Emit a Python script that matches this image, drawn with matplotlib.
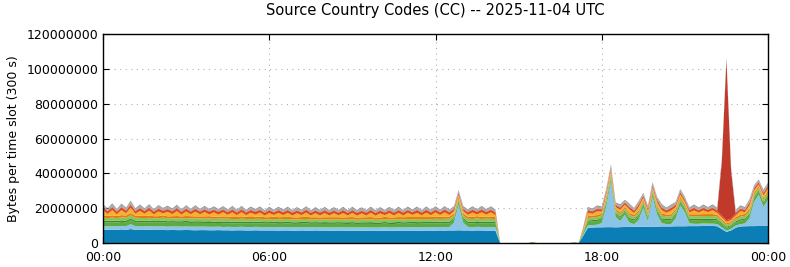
# Source Country Codes stacked area chart, 10 minute slots over one day
import numpy as np
import matplotlib
matplotlib.use('Agg')
from matplotlib import pyplot as plt
from matplotlib.ticker import FuncFormatter

title = 'Source Country Codes (CC) -- 2025-11-04 UTC'
ylabel = 'Bytes per time slot (300 s)'
xtick_hours = [0, 6, 12, 18, 24]
xtick_labels = ['00:00', '06:00', '12:00', '18:00', '00:00']
yticks = [0, 20000000, 40000000, 60000000, 80000000, 100000000, 120000000]

# values in millions of bytes, one per 10 minutes from 00:00 to 24:00
blue = [7.7, 7.6, 7.5, 7.6, 7.8, 7.6, 8.0, 7.6, 7.5, 7.5, 7.6, 7.5,
        7.5, 7.5, 7.4, 7.5, 7.4, 7.4, 7.5, 7.4, 7.3, 7.4, 7.4, 7.3,
        7.3, 7.4, 7.3, 7.3, 7.2, 7.3, 7.3, 7.2, 7.2, 7.3, 7.2, 7.2,
        7.2, 7.2, 7.1, 7.2, 7.2, 7.1, 7.1, 7.2, 7.1, 7.1, 7.2, 7.1,
        7.1, 7.1, 7.0, 7.1, 7.1, 7.0, 7.1, 7.0, 7.0, 7.1, 7.0, 7.0,
        7.0, 7.1, 7.0, 7.0, 7.1, 7.1, 7.0, 7.1, 7.1, 7.0, 7.1, 7.1,
        7.1, 7.2, 7.1, 7.2, 7.2, 7.3, 7.2, 7.2, 7.1, 7.2, 7.2, 7.1,
        7.1, 7.0, 0, 0, 0, 0, 0, 0, 0, 0, 0, 0,
        0, 0, 0, 0, 0, 0, 0, 0, 4.2, 8.8, 8.9, 9.0,
        9.0, 9.1, 9.1, 9.0, 9.1, 9.2, 9.2, 9.3, 9.3, 9.3, 9.4, 9.4,
        9.4, 9.5, 9.5, 9.5, 9.6, 9.6, 9.6, 9.7, 9.7, 9.7, 9.8, 9.8,
        9.8, 9.6, 8.0, 6.4, 7.2, 8.8, 9.5, 9.6, 9.7, 9.7, 9.8, 9.8,
        9.8]
ltblue = [2.0, 2.0, 2.1, 2.0, 2.0, 2.1, 2.8, 2.1, 2.0, 2.0, 2.1, 2.0,
          2.0, 2.1, 2.0, 2.0, 2.1, 2.0, 2.0, 2.0, 2.1, 2.0, 2.0, 2.0,
          2.0, 2.0, 1.9, 2.0, 2.0, 1.9, 2.0, 2.0, 1.9, 2.0, 2.0, 1.9,
          1.9, 2.0, 1.9, 1.9, 2.0, 1.9, 1.9, 1.9, 2.0, 1.9, 1.9, 1.9,
          1.9, 1.9, 1.9, 2.0, 1.9, 1.9, 1.9, 1.9, 2.0, 1.9, 1.9, 1.9,
          1.9, 2.0, 1.9, 1.9, 2.0, 1.9, 2.0, 2.0, 1.9, 2.0, 2.0, 2.0,
          2.0, 2.0, 2.1, 2.0, 4.5, 14.5, 4.5, 2.1, 2.0, 2.1, 2.0, 2.1,
          2.1, 2.0, 0, 0, 0, 0, 0, 0, 0, 0, 0, 0,
          0, 0, 0, 0, 0, 0, 0, 0, 0.6, 1.3, 1.4, 1.5,
          2.5, 12.0, 26.5, 6.0, 3.5, 7.0, 2.5, 1.5, 4.0, 11.0, 3.0, 17.0,
          7.0, 1.8, 1.4, 1.4, 4.5, 12.0, 8.0, 1.6, 1.3, 1.3, 1.4, 1.3,
          1.3, 1.3, 1.0, 0.8, 0.9, 1.2, 1.3, 1.6, 4.5, 14.0, 18.0, 11.0,
          15.0]
green = [2.3, 2.2, 2.3, 2.2, 2.3, 2.2, 2.4, 2.3, 2.2, 2.3, 2.2, 2.2,
         2.2, 2.3, 2.2, 2.2, 2.1, 2.2, 2.2, 2.1, 2.2, 2.2, 2.1, 2.2,
         2.1, 2.1, 2.2, 2.1, 2.1, 2.0, 2.1, 2.1, 2.0, 2.1, 2.1, 2.0,
         2.0, 2.1, 2.0, 2.0, 2.1, 2.0, 2.0, 2.0, 2.1, 2.0, 2.0, 2.0,
         2.0, 2.0, 2.1, 2.0, 2.0, 2.0, 2.1, 2.0, 2.0, 2.0, 2.1, 2.0,
         2.0, 2.1, 2.0, 2.0, 2.1, 2.0, 2.1, 2.1, 2.0, 2.1, 2.1, 2.1,
         2.1, 2.1, 2.2, 2.1, 1.9, 1.6, 1.9, 2.1, 2.1, 2.2, 2.1, 2.2,
         2.2, 2.1, 0, 0, 0, 0, 0, 0, 0, 0.5, 0, 0,
         0, 0, 0, 0, 0, 0, 0.4, 0, 1.0, 2.0, 2.1, 2.1,
         2.1, 2.0, 1.8, 1.7, 1.8, 1.7, 2.0, 2.0, 2.0, 1.8, 1.9, 1.7,
         1.9, 2.1, 2.1, 2.1, 2.0, 1.8, 1.8, 1.9, 2.1, 2.1, 2.0, 2.1,
         2.1, 2.0, 1.8, 1.6, 1.6, 1.8, 2.0, 2.1, 2.0, 1.9, 1.8, 1.9,
         1.9]
dkgreen = [0.9, 0.9, 1.0, 0.9, 0.9, 1.0, 0.9, 0.9, 1.0, 0.9, 0.9, 0.9,
           0.9, 1.0, 0.9, 0.9, 0.9, 0.9, 1.0, 0.9, 0.9, 0.9, 0.9, 1.0,
           0.9, 0.9, 0.9, 1.0, 0.9, 0.9, 0.9, 0.9, 1.0, 0.9, 0.9, 0.9,
           0.9, 0.9, 1.0, 0.9, 0.9, 0.9, 0.9, 1.0, 0.9, 0.9, 0.9, 0.9,
           1.0, 0.9, 0.9, 0.9, 0.9, 1.0, 0.9, 0.9, 0.9, 0.9, 1.0, 0.9,
           0.9, 0.9, 0.9, 1.0, 0.9, 0.9, 0.9, 0.9, 1.0, 0.9, 0.9, 0.9,
           1.0, 0.9, 0.9, 0.9, 0.8, 0.7, 0.8, 0.9, 0.9, 1.0, 0.9, 0.9,
           0.9, 0.9, 0, 0, 0, 0, 0, 0, 0, 0, 0, 0,
           0, 0, 0, 0, 0, 0, 0, 0, 0.4, 0.8, 0.8, 0.8,
           0.8, 0.8, 0.7, 0.7, 0.8, 0.7, 0.8, 0.8, 0.8, 0.7, 0.8, 0.7,
           0.8, 0.8, 0.8, 0.8, 0.8, 0.7, 0.7, 0.8, 0.8, 0.8, 0.8, 0.8,
           0.8, 0.8, 0.7, 0.6, 0.6, 0.7, 0.8, 0.8, 0.8, 0.8, 0.7, 0.8,
           0.8]
ltgreen = [1.7, 1.6, 1.7, 1.6, 1.7, 1.7, 1.8, 1.6, 1.7, 1.6, 1.7, 1.6,
           1.6, 1.7, 1.6, 1.6, 1.7, 1.6, 1.6, 1.7, 1.6, 1.6, 1.7, 1.6,
           1.6, 1.6, 1.7, 1.6, 1.6, 1.6, 1.7, 1.6, 1.6, 1.6, 1.7, 1.6,
           1.6, 1.6, 1.6, 1.7, 1.6, 1.6, 1.6, 1.6, 1.7, 1.6, 1.6, 1.6,
           1.6, 1.7, 1.6, 1.6, 1.6, 1.7, 1.6, 1.6, 1.6, 1.7, 1.6, 1.6,
           1.6, 1.6, 1.7, 1.6, 1.6, 1.6, 1.7, 1.6, 1.6, 1.7, 1.6, 1.6,
           1.7, 1.6, 1.6, 1.7, 1.4, 1.3, 1.4, 1.6, 1.7, 1.6, 1.6, 1.7,
           1.6, 1.6, 0, 0, 0, 0, 0, 0, 0, 0, 0, 0,
           0, 0, 0, 0, 0, 0, 0, 0, 0.7, 1.4, 1.5, 1.5,
           1.5, 1.5, 1.3, 1.2, 1.3, 1.2, 1.5, 1.5, 1.5, 1.2, 1.4, 1.2,
           1.4, 1.5, 1.5, 1.5, 1.5, 1.2, 1.3, 1.4, 1.5, 1.5, 1.5, 1.5,
           1.5, 1.5, 1.2, 1.1, 1.1, 1.3, 1.5, 1.5, 1.5, 1.4, 1.3, 1.4,
           1.4]
orange = [1.3, 1.2, 1.3, 1.2, 1.3, 1.2, 1.3, 1.2, 1.2, 1.3, 1.2, 1.2,
          1.2, 1.3, 1.2, 1.2, 1.3, 1.2, 1.2, 1.3, 1.2, 1.2, 1.2, 1.3,
          1.2, 1.2, 1.3, 1.2, 1.2, 1.2, 1.3, 1.2, 1.2, 1.2, 1.3, 1.2,
          1.2, 1.3, 1.2, 1.2, 1.2, 1.3, 1.2, 1.2, 1.2, 1.3, 1.2, 1.2,
          1.2, 1.2, 1.3, 1.2, 1.2, 1.2, 1.3, 1.2, 1.2, 1.2, 1.3, 1.2,
          1.2, 1.3, 1.2, 1.2, 1.2, 1.3, 1.2, 1.2, 1.3, 1.2, 1.2, 1.2,
          1.2, 1.2, 1.3, 1.2, 1.1, 1.0, 1.1, 1.2, 1.2, 1.3, 1.2, 1.2,
          1.2, 1.2, 0, 0, 0, 0, 0, 0, 0, 0, 0, 0,
          0, 0, 0, 0, 0, 0, 0, 0, 0.5, 1.1, 1.1, 1.1,
          1.1, 1.1, 1.0, 1.0, 1.0, 1.0, 1.1, 1.1, 1.1, 1.0, 1.1, 1.0,
          1.1, 1.1, 1.1, 1.1, 1.1, 1.0, 1.0, 1.1, 1.1, 1.1, 1.1, 1.1,
          1.1, 1.1, 0.9, 0.8, 0.8, 1.0, 1.1, 1.1, 1.1, 1.0, 1.0, 1.0,
          1.0]
yellow = [2.8, 1.2, 3.0, 1.0, 2.9, 1.3, 3.1, 1.1, 2.8, 1.2, 2.9, 1.0,
          2.7, 1.1, 2.6, 1.2, 2.8, 1.0, 2.6, 1.1, 2.7, 1.2, 2.5, 1.0,
          2.5, 1.1, 2.4, 1.0, 2.6, 1.1, 2.4, 1.0, 2.5, 1.2, 2.3, 1.0,
          2.4, 1.0, 2.5, 1.1, 2.3, 1.0, 2.4, 1.1, 2.5, 1.0, 2.3, 1.1,
          2.4, 1.0, 2.3, 1.1, 2.5, 1.0, 2.4, 1.1, 2.3, 1.0, 2.5, 1.1,
          2.4, 1.0, 2.5, 1.1, 2.4, 1.0, 2.5, 1.2, 2.4, 1.0, 2.5, 1.1,
          2.5, 1.1, 2.4, 1.0, 1.4, 1.2, 1.5, 1.1, 2.5, 1.0, 2.6, 1.1,
          2.5, 1.2, 0, 0, 0, 0, 0, 0, 0, 0, 0, 0,
          0, 0, 0, 0, 0, 0, 0, 0, 0.6, 2.0, 1.0, 2.2,
          1.0, 1.8, 1.6, 1.0, 1.6, 1.2, 2.2, 1.0, 2.1, 1.0, 1.0, 1.0,
          1.6, 2.1, 1.0, 2.2, 1.1, 1.6, 1.2, 1.1, 2.2, 1.0, 2.1, 1.1,
          2.2, 1.0, 1.1, 0.9, 0.9, 1.0, 2.1, 1.0, 2.2, 1.4, 1.1, 1.5,
          1.4]
redorange = [1.5, 1.4, 1.5, 1.4, 1.5, 1.4, 1.6, 1.4, 1.5, 1.4, 1.5, 1.4,
             1.5, 1.4, 1.4, 1.5, 1.4, 1.4, 1.5, 1.4, 1.5, 1.4, 1.4, 1.5,
             1.4, 1.5, 1.4, 1.4, 1.5, 1.4, 1.5, 1.4, 1.4, 1.5, 1.4, 1.4,
             1.5, 1.4, 1.4, 1.5, 1.4, 1.5, 1.4, 1.4, 1.5, 1.4, 1.4, 1.5,
             1.4, 1.5, 1.4, 1.4, 1.5, 1.4, 1.4, 1.5, 1.4, 1.5, 1.4, 1.4,
             1.5, 1.4, 1.4, 1.5, 1.4, 1.5, 1.4, 1.4, 1.5, 1.4, 1.5, 1.4,
             1.4, 1.4, 1.5, 1.4, 1.1, 1.0, 1.1, 1.4, 1.5, 1.4, 1.5, 1.4,
             1.4, 1.4, 0, 0, 0, 0, 0, 0, 0, 0, 0, 0,
             0, 0, 0, 0, 0, 0, 0, 0, 0.6, 1.3, 1.2, 1.3,
             1.2, 1.2, 1.1, 1.1, 1.1, 1.1, 1.2, 1.2, 1.2, 1.1, 1.2, 1.1,
             1.2, 1.3, 1.2, 1.3, 1.2, 1.1, 1.1, 1.2, 1.3, 1.2, 1.3, 1.2,
             1.3, 1.2, 1.0, 0.9, 0.9, 1.1, 1.2, 1.2, 1.3, 1.2, 1.1, 1.2,
             1.2]
red = [0.3, 0.3, 0.4, 0.3, 0.3, 0.3, 0.4, 0.3, 0.3, 0.3, 0.3, 0.3,
       0.3, 0.3, 0.3, 0.3, 0.4, 0.3, 0.3, 0.3, 0.3, 0.3, 0.3, 0.3,
       0.3, 0.3, 0.3, 0.3, 0.3, 0.3, 0.3, 0.4, 0.3, 0.3, 0.3, 0.3,
       0.3, 0.3, 0.3, 0.3, 0.3, 0.3, 0.3, 0.3, 0.3, 0.3, 0.3, 0.3,
       0.3, 0.3, 0.3, 0.3, 0.3, 0.3, 0.3, 0.3, 0.3, 0.3, 0.3, 0.3,
       0.3, 0.3, 0.3, 0.3, 0.3, 0.3, 0.3, 0.3, 0.3, 0.3, 0.3, 0.3,
       0.3, 0.3, 0.3, 0.3, 0.3, 0.3, 0.3, 0.3, 0.3, 0.3, 0.3, 0.3,
       0.3, 0.3, 0, 0, 0, 0, 0, 0, 0, 0, 0, 0,
       0, 0, 0, 0, 0, 0, 0, 0, 0.1, 0.3, 0.3, 0.3,
       0.3, 0.3, 0.3, 0.3, 0.3, 0.3, 0.3, 0.3, 0.3, 0.3, 0.3, 0.3,
       0.3, 0.3, 0.3, 0.3, 0.3, 0.3, 0.3, 0.3, 0.3, 0.3, 0.3, 0.3,
       0.3, 0.4, 31.0, 92.0, 28.0, 0.5, 0.3, 0.3, 0.3, 0.3, 0.3, 0.3,
       0.3]
grey = [1.3, 0.9, 1.4, 0.8, 1.3, 1.0, 1.4, 0.9, 1.3, 0.9, 1.3, 0.8,
        1.3, 0.9, 1.2, 0.9, 1.3, 0.8, 1.2, 0.9, 1.3, 0.9, 1.2, 0.8,
        1.2, 0.9, 1.2, 0.8, 1.3, 0.9, 1.2, 0.8, 1.2, 0.9, 1.2, 0.8,
        1.2, 0.8, 1.2, 0.9, 1.2, 0.8, 1.2, 0.9, 1.2, 0.8, 1.2, 0.9,
        1.2, 0.8, 1.2, 0.9, 1.2, 0.8, 1.2, 0.9, 1.2, 0.8, 1.2, 0.9,
        1.2, 0.8, 1.2, 0.9, 1.2, 0.8, 1.2, 0.9, 1.2, 0.8, 1.2, 0.9,
        1.2, 0.9, 1.2, 0.8, 1.0, 1.0, 1.0, 0.9, 1.2, 0.8, 1.3, 0.9,
        1.2, 0.9, 0, 0, 0, 0, 0, 0, 0, 0, 0, 0,
        0, 0, 0, 0, 0, 0, 0, 0, 0.4, 1.1, 0.9, 1.2,
        0.9, 1.1, 1.1, 0.8, 1.1, 0.9, 1.2, 0.9, 1.2, 0.9, 0.9, 1.0,
        1.1, 1.2, 0.9, 1.2, 0.9, 1.1, 1.0, 0.9, 1.2, 0.9, 1.2, 0.9,
        1.2, 0.9, 1.2, 1.0, 1.2, 0.9, 1.2, 0.9, 1.2, 1.0, 0.9, 1.1,
        1.1]
dkgrey = [0.6, 0.5, 0.6, 0.5, 0.6, 0.5, 0.6, 0.5, 0.6, 0.5, 0.6, 0.5,
          0.6, 0.5, 0.6, 0.5, 0.6, 0.5, 0.6, 0.5, 0.6, 0.5, 0.6, 0.5,
          0.6, 0.5, 0.6, 0.5, 0.6, 0.5, 0.6, 0.5, 0.6, 0.5, 0.6, 0.5,
          0.6, 0.5, 0.6, 0.5, 0.6, 0.5, 0.6, 0.5, 0.6, 0.5, 0.6, 0.5,
          0.6, 0.5, 0.6, 0.5, 0.6, 0.5, 0.6, 0.5, 0.6, 0.5, 0.6, 0.5,
          0.6, 0.5, 0.6, 0.5, 0.6, 0.5, 0.6, 0.5, 0.6, 0.5, 0.6, 0.5,
          0.6, 0.5, 0.6, 0.5, 0.5, 0.5, 0.5, 0.5, 0.6, 0.5, 0.6, 0.5,
          0.6, 0.5, 0, 0, 0, 0, 0, 0, 0, 0, 0, 0,
          0, 0, 0, 0, 0, 0, 0, 0, 0.2, 0.6, 0.5, 0.6,
          0.5, 0.6, 0.6, 0.5, 0.6, 0.5, 0.6, 0.5, 0.6, 0.5, 0.5, 0.5,
          0.6, 0.6, 0.5, 0.6, 0.5, 0.6, 0.5, 0.5, 0.6, 0.5, 0.6, 0.5,
          0.6, 0.5, 0.6, 0.5, 0.6, 0.5, 0.6, 0.5, 0.6, 0.5, 0.5, 0.6,
          0.6]

layers = [blue, ltblue, green, dkgreen, ltgreen, orange, yellow, redorange, red, grey, dkgrey]
colors = ['#0b7fb5', '#8cc4e8', '#5cab3e', '#3d8b2e', '#86c55c', '#e8790f',
          '#f4b12c', '#e0481a', '#c0392b', '#a9a9a9', '#8a8a8a']

hours = np.arange(len(blue)) / 6.0
ys = [np.array(l) * 1e6 for l in layers]

fig = plt.figure(figsize=(7.9, 2.67), dpi=100)
ax = fig.add_axes([103 / 790, 24 / 267, 665 / 790, 209 / 267])
ax.stackplot(hours, *ys, colors=colors, linewidth=0, zorder=2)

ax.set_xlim(0, 24)
ax.set_ylim(0, 120000000)
ax.set_xticks(xtick_hours)
ax.set_xticklabels(xtick_labels)
ax.set_yticks(yticks)
ax.yaxis.set_major_formatter(FuncFormatter(lambda v, p: '%d' % v))
ax.tick_params(direction='in', top=True, right=True, labelsize=9, length=4, color='black')
ax.tick_params(axis='x', pad=6)
ax.grid(True, linestyle=(0, (1, 4)), color='#b0b0b0', linewidth=0.8, zorder=1)
ax.set_axisbelow(True)
for s in ax.spines.values():
    s.set_linewidth(1.0)
    s.set_zorder(3)

ax.set_ylabel(ylabel, fontsize=9)
ax.yaxis.set_label_coords(-0.125, 0.5)
fig.text(435.5 / 790, 1 - 11 / 267, title, ha='center', va='center', fontsize=10.5)

fig.savefig('out.png', dpi=100)
